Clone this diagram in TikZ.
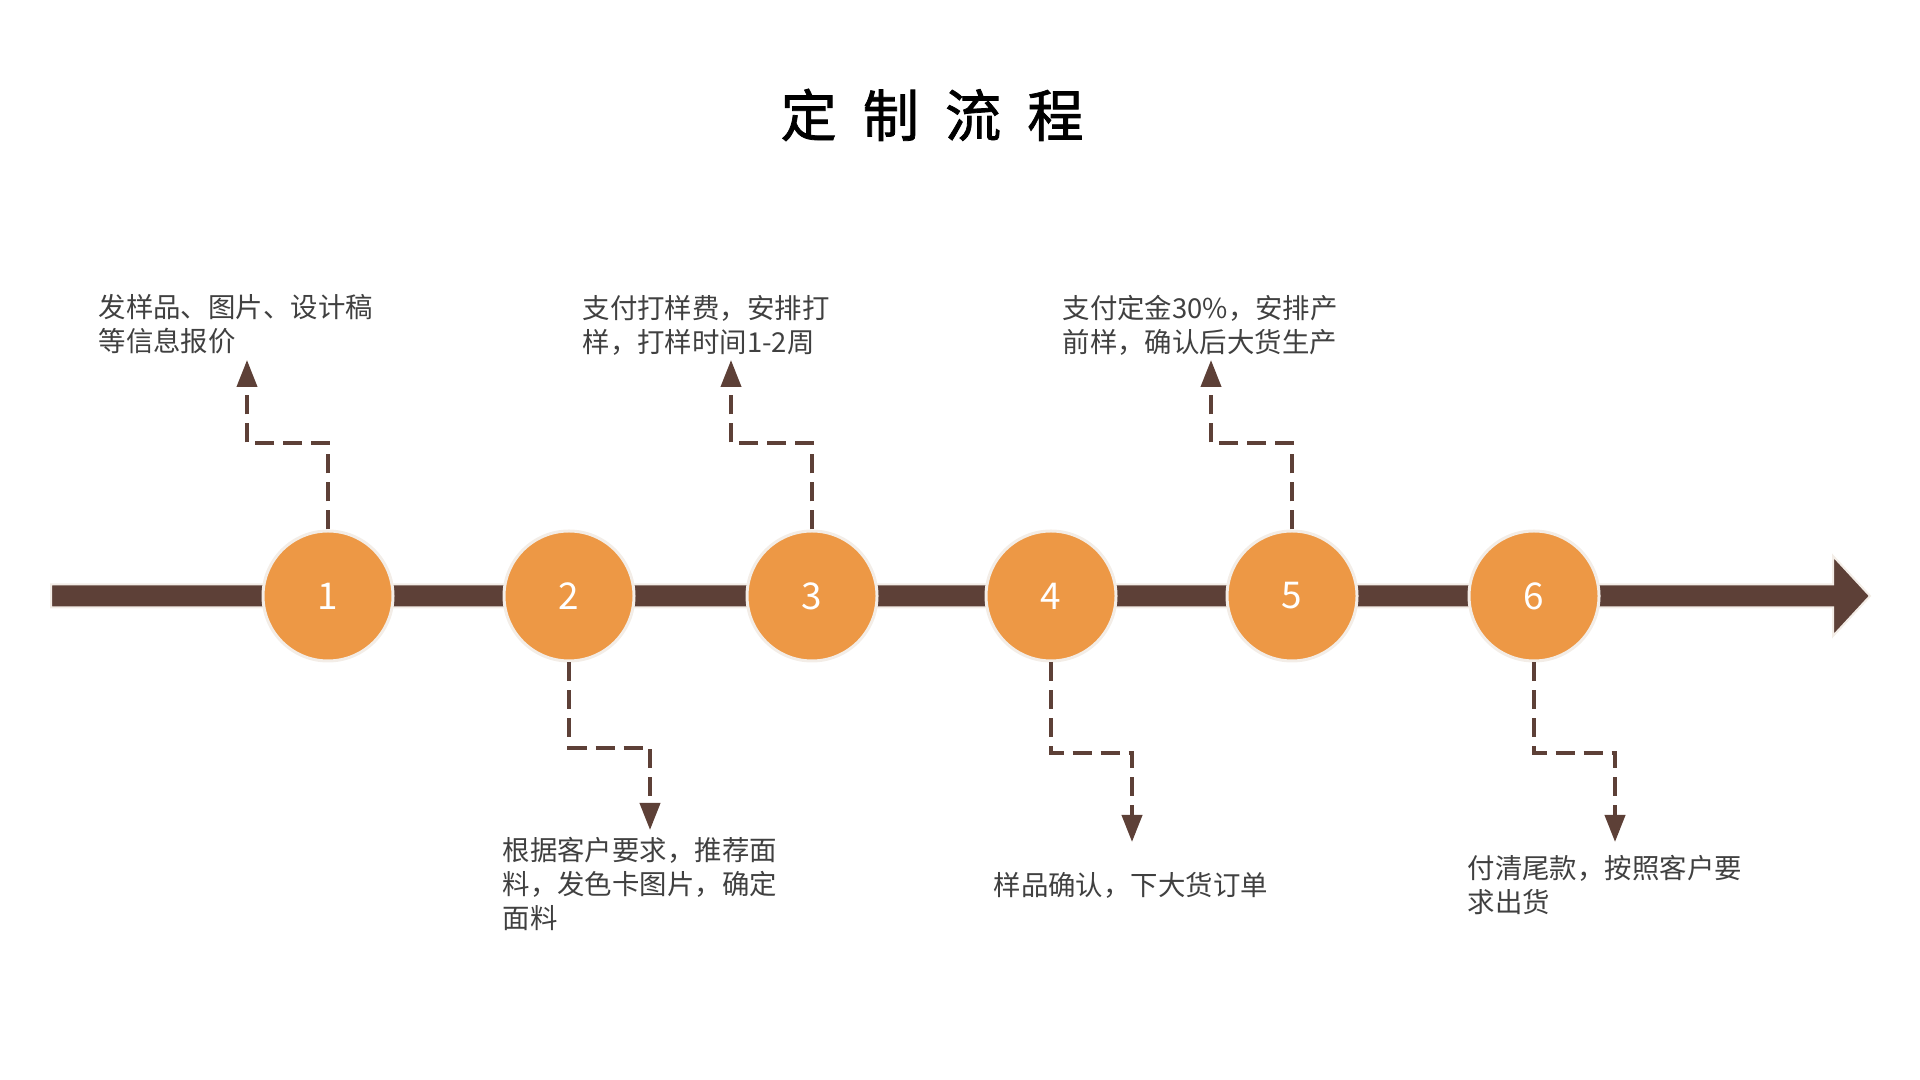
\documentclass[tikz,border=0pt]{standalone}
\usepackage{fontspec}
\setmainfont{Noto Sans CJK SC}
\newfontfamily\titlefont{Noto Sans CJK SC}[FakeBold=1.4]
\usetikzlibrary{arrows.meta}
\definecolor{barbrown}{RGB}{93,64,55}
\definecolor{dotorange}{RGB}{237,152,69}
\definecolor{ringgray}{RGB}{243,237,231}
\definecolor{txtgray}{RGB}{64,64,64}
\tikzset{
	stepdot/.style={circle, fill=dotorange, draw=ringgray, line width=0.03cm, minimum size=1.30cm, inner sep=0pt, text=white, font=\fontsize{10.5pt}{10.5pt}\selectfont},
	leader/.style={barbrown, line width=0.04cm, dash pattern=on 0.19cm off 0.09cm, -{Triangle[width=0.2cm,length=0.27cm]}},
	stepnote/.style={align=left, text=txtgray, inner sep=0pt, anchor=west, font=\fontsize{7.8pt}{9.7pt}\selectfont},
}

\begin{document}
\begin{tikzpicture}
		%%%%% START %%%%%
		\useasboundingbox (0,0) rectangle (19.2,10.8);
		
		\node[font=\fontsize{16pt}{16pt}\titlefont] (title) at (9.32, 9.65) {定\hspace{0.26cm}制\hspace{0.26cm}流\hspace{0.26cm}程};
		
		\coordinate (s) at (0.51, 4.84);
		\coordinate (e) at (18.70, 4.84);
		\filldraw[fill=barbrown, draw=ringgray, line width=0.02cm] (s) ++(0, 0.115) -- ++(17.82, 0) -- ++(0, 0.285) -- (e) -- ++(-0.37, -0.40) -- ++(0, 0.285) -- ++(-17.82, 0) -- cycle;
		
		\node[stepdot] (c1) at (3.28, 4.84) {1};
		\node[stepdot] (c2) at (5.69, 4.84) {2};
		\node[stepdot] (c3) at (8.12, 4.84) {3};
		\node[stepdot] (c4) at (10.51, 4.84) {4};
		\node[stepdot] (c5) at (12.92, 4.84) {5};
		\node[stepdot] (c6) at (15.34, 4.84) {6};
		
		\coordinate (a1) at (2.47, 7.20);
		\coordinate (a2) at (6.50, 2.50);
		\coordinate (a3) at (7.31, 7.20);
		\coordinate (a4) at (11.32, 2.38);
		\coordinate (a5) at (12.11, 7.20);
		\coordinate (a6) at (16.15, 2.38);
		
		\draw[leader] (c1.north) -- ++(0, 0.86) -| (a1);
		\draw[leader] (c3.north) -- ++(0, 0.86) -| (a3);
		\draw[leader] (c5.north) -- ++(0, 0.86) -| (a5);
		\draw[leader] (c2.south) -- ++(0, -0.855) -| (a2);
		\draw[leader] (c4.south) -- ++(0, -0.905) -| (a4);
		\draw[leader] (c6.south) -- ++(0, -0.905) -| (a6);
		
		\node[stepnote] (t1) at (0.98, 7.56) {发样品、图片、设计稿\\等信息报价};
		\node[stepnote] (t3) at (5.82, 7.55) {支付打样费，安排打\\样，打样时间1-2周};
		\node[stepnote] (t5) at (10.62, 7.55) {支付定金30\%，安排产\\前样，确认后大货生产};
		\node[stepnote] (t2) at (5.02, 1.96) {根据客户要求，推荐面\\料，发色卡图片，确定\\面料};
		\node[stepnote] (t4) at (9.93, 1.95) {样品确认，下大货订单};
		\node[stepnote] (t6) at (14.67, 1.95) {付清尾款，按照客户要\\求出货};
		
		%%%%% END %%%%%
\end{tikzpicture}
\end{document}
